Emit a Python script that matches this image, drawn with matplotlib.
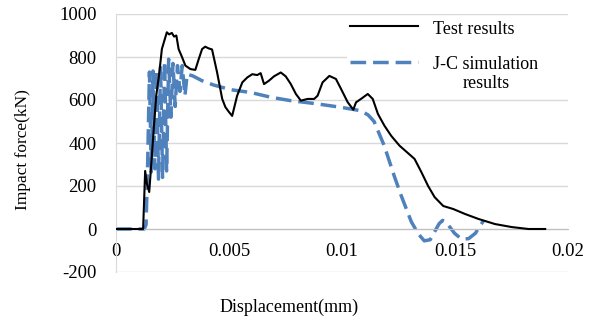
import matplotlib.pyplot as plt
from matplotlib.lines import Line2D
from matplotlib.patches import Rectangle

# displacement (mm) / impact force (kN)
test_x = [0.0, 0.0012, 0.00129, 0.00137, 0.00147, 0.00158, 0.00168, 0.00178,
          0.0019, 0.00203, 0.00215, 0.00225, 0.00235, 0.00247, 0.00257, 0.00267,
          0.00277, 0.00292, 0.00307, 0.00329, 0.00351, 0.00366, 0.00381, 0.00395,
          0.0041, 0.00425, 0.00447, 0.0047, 0.00484, 0.005, 0.00514, 0.00536,
          0.00559, 0.00581, 0.00603, 0.00625, 0.0064, 0.00655, 0.00677, 0.00699,
          0.00729, 0.00751, 0.00773, 0.00796, 0.00818, 0.00848, 0.00877, 0.00892,
          0.00914, 0.00944, 0.00973, 0.00996, 0.01025, 0.0105, 0.01062, 0.01084,
          0.01114, 0.01136, 0.01159, 0.01188, 0.01218, 0.01255, 0.01292, 0.01321,
          0.01351, 0.01381, 0.0141, 0.01448, 0.01492, 0.01544, 0.01603, 0.01677,
          0.01751, 0.01825, 0.01899]
test_y = [0, 0, 270, 210, 172, 330, 480, 620,
          712, 837, 880, 915, 905, 912, 895, 900,
          837, 800, 760, 744, 740, 790, 837, 848,
          840, 835, 730, 605, 567, 544, 526, 620,
          682, 705, 720, 716, 725, 674, 690, 710,
          728, 710, 675, 628, 597, 605, 605, 620,
          682, 712, 698, 651, 590, 555, 589, 605,
          628, 605, 535, 480, 433, 387, 353, 326,
          265, 200, 148, 107, 93, 70, 47, 23,
          9, 0, 0]

jc_x = [0.0, 0.00125, 0.00133, 0.0014, 0.00148, 0.00156, 0.00164, 0.00172,
        0.0018, 0.00188, 0.00197, 0.00206, 0.00215, 0.00224, 0.00233, 0.00243,
        0.00252, 0.00262, 0.00272, 0.00283, 0.00293, 0.00305, 0.00315, 0.0034,
        0.0038, 0.00431, 0.00507, 0.00596, 0.00684, 0.00773, 0.00876, 0.00996,
        0.01084, 0.01116, 0.01142, 0.01187, 0.01231, 0.01262, 0.01307, 0.01338,
        0.01364, 0.0139, 0.01409, 0.0143, 0.01445, 0.01462, 0.01498, 0.01529,
        0.0156, 0.0159, 0.01627]
jc_y = [0, 0, 20, 300, 730, 265, 735, 280,
        740, 232, 760, 240, 780, 270, 790, 520,
        770, 570, 760, 640, 760, 620, 720, 712,
        690, 670, 648, 635, 613, 597, 584, 566,
        550, 530, 500, 387, 247, 155, 33, -23,
        -55, -50, -14, 25, 40, 30, -20, -47,
        -45, -20, 40]

x_ticks = [0, 0.005, 0.01, 0.015, 0.02]
x_labels = ['0', '0.005', '0.01', '0.015', '0.02']
y_ticks = [-200, 0, 200, 400, 600, 800, 1000]

BLUE = '#4F81BD'
JC_DASH = (0, (4.5, 2))

plt.rcParams['font.family'] = ['Liberation Serif', 'DejaVu Serif']
plt.rcParams['axes.unicode_minus'] = False

W, H = 595, 322


def fx(px):
    return px / W


def fy(py):
    return 1 - py / H


fig = plt.figure(figsize=(W / 100, H / 100), dpi=100)
ax = fig.add_axes([fx(116), fy(272), 452 / W, 258 / H])

ax.plot(test_x, test_y, color='black', lw=1.5, zorder=3)
ax.plot(jc_x, jc_y, color=BLUE, lw=2.5, linestyle=JC_DASH, zorder=2)

ax.set_xlim(0, 0.02)
ax.set_ylim(-200, 1000)
ax.set_xticks(x_ticks)
ax.set_xticklabels(x_labels)
ax.set_yticks(y_ticks)
ax.grid(axis='y', color='#d9d9d9', lw=1)
ax.set_axisbelow(True)

for s in ['top', 'right']:
    ax.spines[s].set_visible(False)
ax.spines['bottom'].set_position(('data', 0))
ax.spines['bottom'].set_color('#bfbfbf')
ax.spines['left'].set_color('#d9d9d9')
ax.tick_params(length=0, labelsize=13.5)
ax.tick_params(axis='x', pad=10)
ax.tick_params(axis='y', pad=14)

# legend drawn by hand: white box hides the grid, not the curves
ax.add_patch(Rectangle((fx(347), fy(97)), (570 - 347) / W, (97 - 18) / H,
                       transform=fig.transFigure, facecolor='white',
                       edgecolor='none', zorder=1, clip_on=False))
ax.add_line(Line2D([fx(350), fx(418)], [fy(26), fy(26)], transform=fig.transFigure,
                   color='black', lw=1.5, zorder=3))
ax.add_line(Line2D([fx(350), fx(418)], [fy(62), fy(62)], transform=fig.transFigure,
                   color=BLUE, lw=2.5, linestyle=JC_DASH, zorder=3))
fig.text(fx(433), fy(29), 'Test results', ha='left', va='center', fontsize=13)
fig.text(fx(486), fy(74), 'J-C simulation\nresults', ha='center', va='center',
         multialignment='center', fontsize=13, linespacing=1.2)

fig.text(fx(289), fy(307), 'Displacement(mm)', ha='center', va='center',
         fontsize=13)
fig.text(fx(23), fy(150), 'Impact force(kN)', ha='center', va='center',
         rotation=90, fontsize=12.5)

fig.savefig('out.png', dpi=100)
